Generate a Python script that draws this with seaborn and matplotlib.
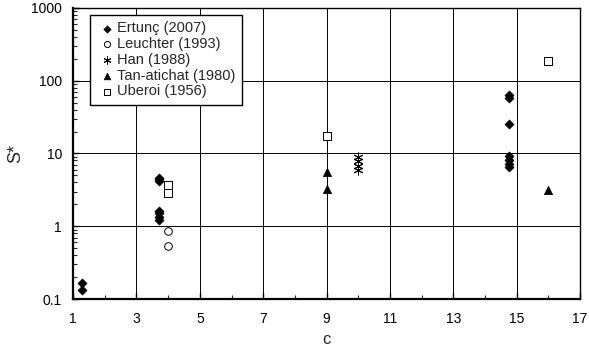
import matplotlib
matplotlib.use("Agg")
import matplotlib.pyplot as plt
import matplotlib.ticker as mticker
import seaborn as sns
import pandas as pd

# Series data: c (x) and S* (y)
ertunc_c = [1.27, 1.27, 3.7, 3.7, 3.7, 3.7, 3.7, 3.7, 3.7,
            14.75, 14.75, 14.75, 14.75, 14.75, 14.75, 14.75]
ertunc_s = [0.165, 0.135, 4.6, 4.4, 4.2, 1.64, 1.50, 1.34, 1.20,
            63, 58, 25.4, 9.2, 8.1, 7.1, 6.5]

leuchter_c = [4, 4]
leuchter_s = [0.85, 0.54]

han_c = [10, 10, 10, 10]
han_s = [9.0, 7.9, 6.8, 6.0]

tan_c = [9, 9, 16]
tan_s = [5.5, 3.2, 3.1]

uberoi_c = [4, 4, 9, 16]
uberoi_s = [3.65, 2.85, 17.5, 185]

series = [
    ("Ertunç (2007)", ertunc_c, ertunc_s, "D", "black", 4.6),
    ("Leuchter (1993)", leuchter_c, leuchter_s, "o", "white", 5.5),
    ("Han (1988)", han_c, han_s, (6, 2, 0), "black", 6.5),
    ("Tan-atichat (1980)", tan_c, tan_s, "^", "black", 6.0),
    ("Uberoi (1956)", uberoi_c, uberoi_s, "s", "white", 6.0),
]

sns.set_style("white")
plt.rcParams["font.family"] = ["Liberation Sans", "DejaVu Sans"]

fig = plt.figure(figsize=(5.89, 3.56), dpi=100)
ax = fig.add_axes([0.124, 0.160, 0.861, 0.818])

for label, cx, sy, mk, fc, ms in series:
    df = pd.DataFrame({"c": cx, "S": sy})
    if mk == (6, 2, 0):
        sns.scatterplot(data=df, x="c", y="S", marker=mk, s=ms ** 2,
                        color="black", linewidth=0.7,
                        ax=ax, label=label, zorder=3)
    elif fc == "black":
        sns.scatterplot(data=df, x="c", y="S", marker=mk, s=ms ** 2,
                        color="black", edgecolor="black", linewidth=0.5,
                        ax=ax, label=label, zorder=3)
    else:
        sns.scatterplot(data=df, x="c", y="S", marker=mk, s=ms ** 2,
                        facecolor="white", edgecolor="black", linewidth=0.7,
                        ax=ax, label=label, zorder=3)

ax.set_yscale("log")
ax.set_xlim(1, 17)
ax.set_ylim(0.1, 1000)

ax.xaxis.set_major_locator(mticker.FixedLocator([1, 3, 5, 7, 9, 11, 13, 15, 17]))
ax.xaxis.set_minor_locator(mticker.FixedLocator([2, 4, 6, 8, 10, 12, 14, 16]))
ax.set_xticklabels(["1", "3", "5", "7", "9", "11", "13", "15", "17"])
ax.yaxis.set_major_locator(mticker.FixedLocator([0.1, 1, 10, 100, 1000]))
ax.yaxis.set_minor_locator(mticker.LogLocator(base=10, subs=range(2, 10)))
ax.yaxis.set_minor_formatter(mticker.NullFormatter())
ax.set_yticklabels(["0.1", "1", "10", "100", "1000"])

ax.tick_params(axis="both", which="major", direction="in", length=4, width=1,
               labelsize=10, colors="black", pad=8, left=True, bottom=True)
ax.tick_params(axis="both", which="minor", direction="in", length=3, width=0.8,
               left=True, bottom=True)
ax.tick_params(axis="x", which="major", pad=9)

ax.grid(True, which="major", color="black", linewidth=0.7)
for side in ["left", "bottom", "right", "top"]:
    ax.spines[side].set_color("black")
ax.spines["left"].set_linewidth(1.6)
ax.spines["bottom"].set_linewidth(1.6)
ax.spines["right"].set_linewidth(1.0)
ax.spines["top"].set_linewidth(1.0)

ax.set_xlabel("c", fontsize=12, labelpad=5)
ax.set_ylabel("S*", fontsize=13, labelpad=5)

leg = ax.legend(loc="upper left", bbox_to_anchor=(0.034, 0.976), fontsize=10.5,
                frameon=True, fancybox=False, edgecolor="black",
                handletextpad=0.0, borderpad=0.45, labelspacing=0.12,
                handlelength=1.4, borderaxespad=0, markerscale=0.8)
leg.get_frame().set_linewidth(1.0)
leg.get_frame().set_alpha(1)

fig.savefig("out.png", dpi=100)
